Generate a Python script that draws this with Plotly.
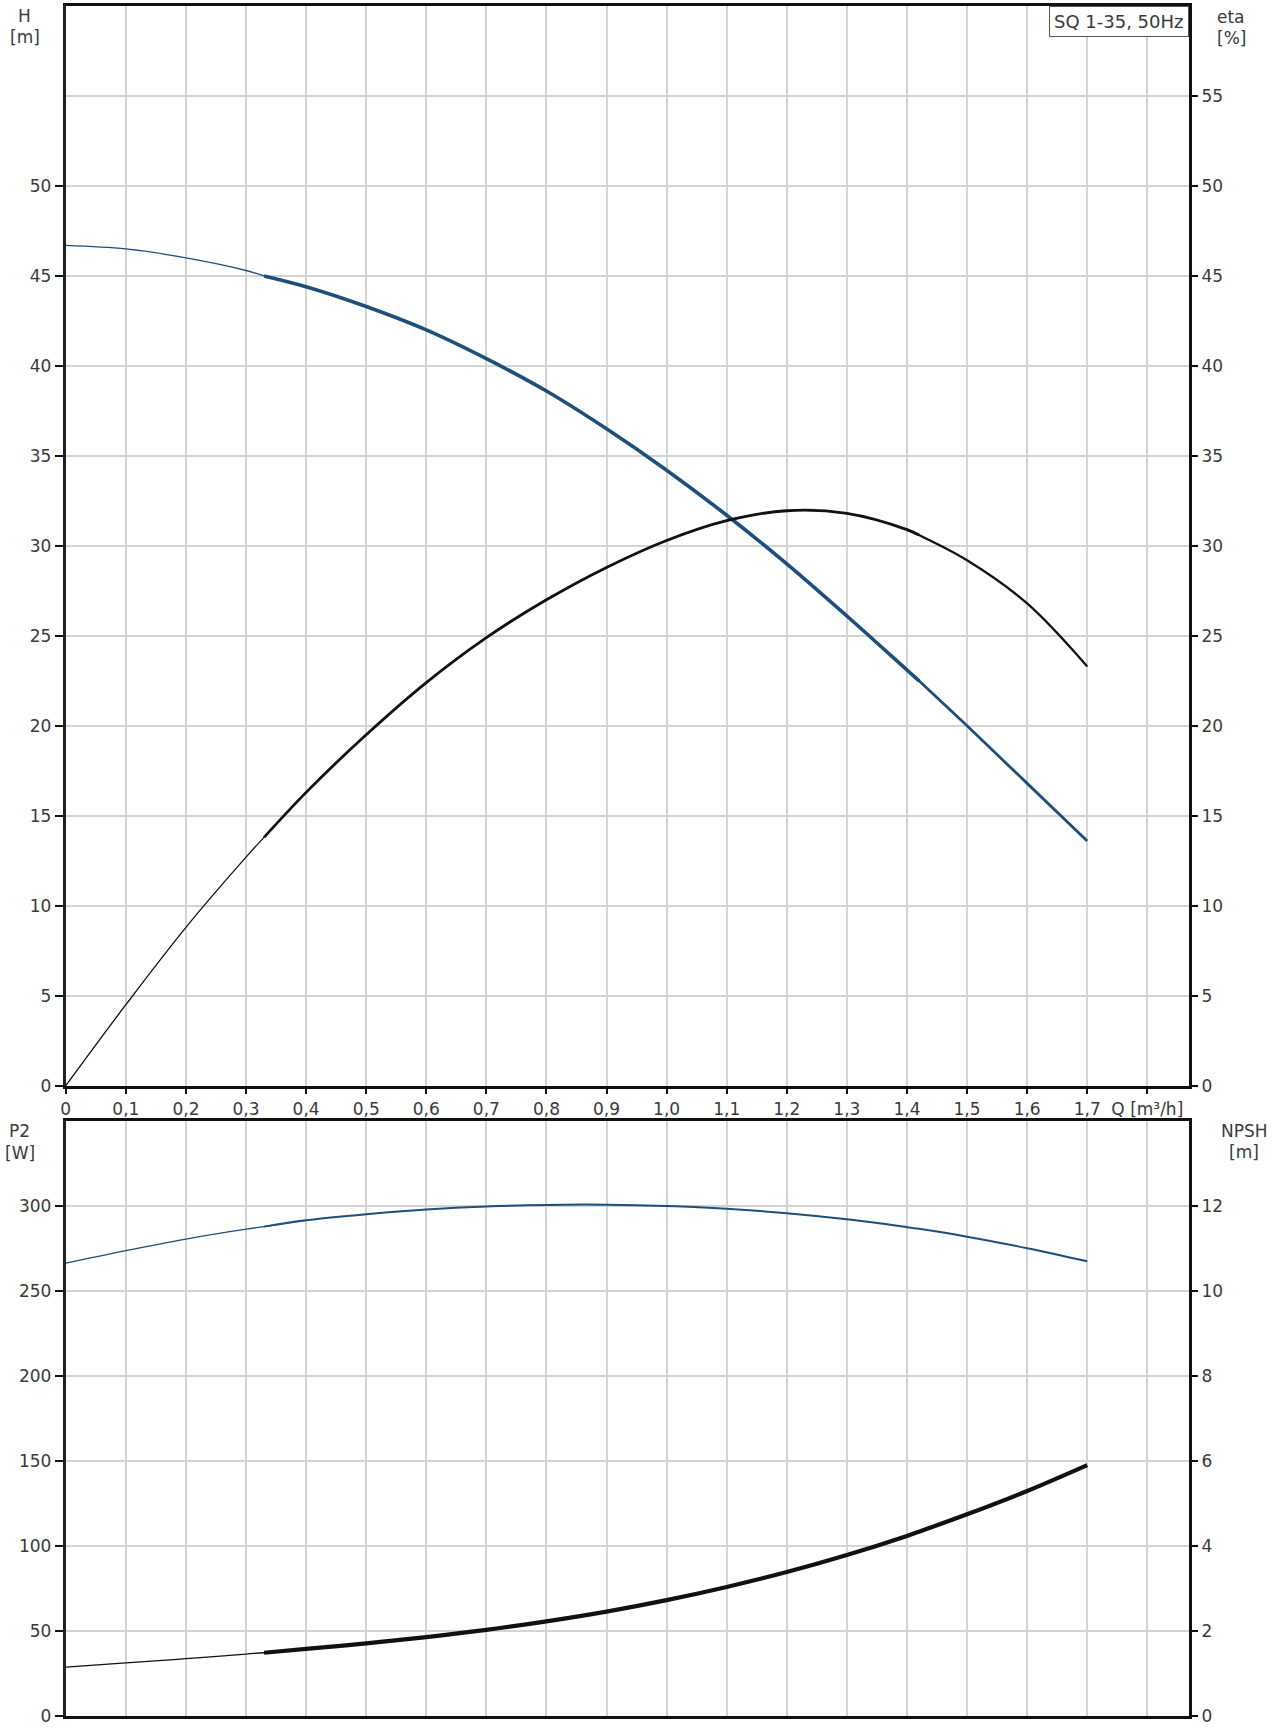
import plotly.graph_objects as go

# ---------------- data ----------------
q = [0, 0.1, 0.2, 0.3, 0.33, 0.4, 0.5, 0.6, 0.7, 0.8, 0.9, 1.0, 1.1, 1.2, 1.3, 1.4, 1.42, 1.5, 1.6, 1.7]
head_m = [46.7, 46.5, 46.0, 45.3, 45.0, 44.4, 43.3, 42.0, 40.4, 38.6, 36.5, 34.2, 31.7, 29.0, 26.1, 23.1, 22.5, 20.0, 16.8, 13.6]
eta_pct = [0, 4.5, 8.8, 12.7, 13.8, 16.3, 19.5, 22.4, 24.9, 27.0, 28.8, 30.3, 31.4, 31.95, 31.8, 30.9, 30.6, 29.2, 26.8, 23.3]
p2_w = [266.6, 274.0, 280.8, 286.6, 288.1, 291.8, 295.4, 298.2, 300.0, 300.9, 301.0, 300.2, 298.6, 296.0, 292.4, 287.8, 286.8, 282.2, 275.4, 267.7]
npsh_m = [1.15, 1.25, 1.35, 1.46, 1.49, 1.58, 1.71, 1.86, 2.03, 2.23, 2.46, 2.73, 3.04, 3.39, 3.79, 4.24, 4.34, 4.75, 5.30, 5.91]

q_ticks = [0, 0.1, 0.2, 0.3, 0.4, 0.5, 0.6, 0.7, 0.8, 0.9, 1.0, 1.1, 1.2, 1.3, 1.4, 1.5, 1.6, 1.7, 1.8]
q_tick_labels = ["0", "0,1", "0,2", "0,3", "0,4", "0,5", "0,6", "0,7", "0,8", "0,9",
                 "1,0", "1,1", "1,2", "1,3", "1,4", "1,5", "1,6", "1,7", "Q [m³/h]"]
h_ticks = [0, 5, 10, 15, 20, 25, 30, 35, 40, 45, 50]
eta_ticks = [0, 5, 10, 15, 20, 25, 30, 35, 40, 45, 50, 55]
p2_ticks = [0, 50, 100, 150, 200, 250, 300]
npsh_ticks = [0, 2, 4, 6, 8, 10, 12]

title_text = "SQ 1-35, 50Hz"

# ---------------- layout helpers ----------------
W, HT = 1284, 1732
def px(x):
    return x / W
def py(y):
    return 1 - y / HT

BLUE = "#1d4f7c"
BLACK = "#111111"
GRID = "#d4d4d4"
TXT = "#3a3a3a"
FONT = "DejaVu Sans, Arial, sans-serif"
FS = 17

i_a = q.index(0.33)
i_b = q.index(1.42)
last = len(q) - 1

fig = go.Figure()

def add_seg(y, i0, i1, color, width, xa, ya):
    fig.add_trace(go.Scatter(x=q[i0:i1 + 1], y=y[i0:i1 + 1], mode="lines",
                             line=dict(color=color, width=width, shape="spline", smoothing=1.0),
                             xaxis=xa, yaxis=ya, showlegend=False, hoverinfo="skip"))

# H curve (left axis)
add_seg(head_m, 0, i_a + 1, BLUE, 1.3, "x", "y")
add_seg(head_m, i_b - 1, last, BLUE, 2.8, "x", "y")
add_seg(head_m, i_a, i_b, BLUE, 3.6, "x", "y")
# eta curve (right axis)
add_seg(eta_pct, 0, i_a + 1, BLACK, 1.3, "x", "y2")
add_seg(eta_pct, i_b - 1, last, BLACK, 2.3, "x", "y2")
add_seg(eta_pct, i_a, i_b, BLACK, 2.8, "x", "y2")
# P2 curve
add_seg(p2_w, 0, i_a + 1, BLUE, 1.3, "x2", "y3")
add_seg(p2_w, i_a, last, BLUE, 2.0, "x2", "y3")
# NPSH curve
add_seg(npsh_m, 0, i_a + 1, BLACK, 1.3, "x2", "y4")
add_seg(npsh_m, i_a, last, BLACK, 4.2, "x2", "y4")

xdom = [px(61), px(1189)]
top_dom = [py(1092), py(6)]
bot_dom = [py(1726), py(1128)]
tickfont = dict(family=FONT, size=FS, color=TXT)

fig.update_layout(
    width=W, height=HT, margin=dict(l=0, r=0, t=0, b=0),
    paper_bgcolor="white", plot_bgcolor="white", showlegend=False,
    font=dict(family=FONT, color=TXT),
    xaxis=dict(domain=xdom, anchor="y", range=[0, 1.87], tickmode="array",
               tickvals=q_ticks, ticktext=q_tick_labels, showgrid=True, gridcolor=GRID, gridwidth=1.5,
               zeroline=False, showline=True, linecolor=BLACK, linewidth=2.5, mirror=True,
               ticks="outside", ticklen=6, tickwidth=2, tickcolor=BLACK, tickfont=tickfont),
    yaxis=dict(domain=top_dom, anchor="x", range=[0, 60], tickmode="array", tickvals=h_ticks,
               showgrid=False, zeroline=False, showline=True, linecolor="#222222", linewidth=3,
               ticks="outside", ticklen=8, tickwidth=1.5, tickcolor=BLACK, tickfont=tickfont),
    yaxis2=dict(overlaying="y", side="right", anchor="x", range=[0, 60], tickmode="array",
                tickvals=eta_ticks, showgrid=True, gridcolor=GRID, gridwidth=1.5, zeroline=False,
                showline=True, linecolor=BLACK, linewidth=2.5, ticks="outside", ticklen=6,
                tickwidth=1.5, tickcolor=BLACK, tickfont=tickfont),
    xaxis2=dict(domain=xdom, anchor="y3", range=[0, 1.87], tickmode="array", tickvals=q_ticks,
                showticklabels=False, ticks="", showgrid=True, gridcolor=GRID, gridwidth=1.5,
                zeroline=False, showline=True, linecolor=BLACK, linewidth=2.5, mirror=True),
    yaxis3=dict(domain=bot_dom, anchor="x2", range=[0, 350], tickmode="array", tickvals=p2_ticks,
                showgrid=True, gridcolor=GRID, gridwidth=1.5, zeroline=False, showline=True,
                linecolor="#222222", linewidth=3, ticks="outside", ticklen=8, tickwidth=1.5,
                tickcolor=BLACK, tickfont=tickfont),
    yaxis4=dict(overlaying="y3", side="right", anchor="x2", range=[0, 14], tickmode="array",
                tickvals=npsh_ticks, showgrid=False, zeroline=False, showline=True, linecolor=BLACK,
                linewidth=2.5, ticks="outside", ticklen=6, tickwidth=1.5, tickcolor=BLACK,
                tickfont=tickfont),
)

def label(x, y, text, size=FS):
    fig.add_annotation(x=px(x), y=py(y), xref="paper", yref="paper", text=text, showarrow=False,
                       xanchor="center", yanchor="middle", font=dict(family=FONT, size=size, color=TXT))

label(20, 16, "H")
label(20, 37, "[m]")
label(1231, 17, "eta")
label(1231, 38, "[%]")
label(15, 1138, "P2")
label(15, 1160, "[W]")
label(1244, 1138, "NPSH")
label(1244, 1159, "[m]")

fig.add_annotation(x=px(1189), y=py(6), xref="paper", yref="paper", text=title_text, showarrow=False,
                   xanchor="right", yanchor="top", font=dict(family=FONT, size=18, color=TXT),
                   bgcolor="white", bordercolor="#555555", borderwidth=1, borderpad=4)

fig.write_html("out.html", config={"displayModeBar": False},
               post_script="document.body.style.margin='0';document.body.style.overflow='hidden';")
